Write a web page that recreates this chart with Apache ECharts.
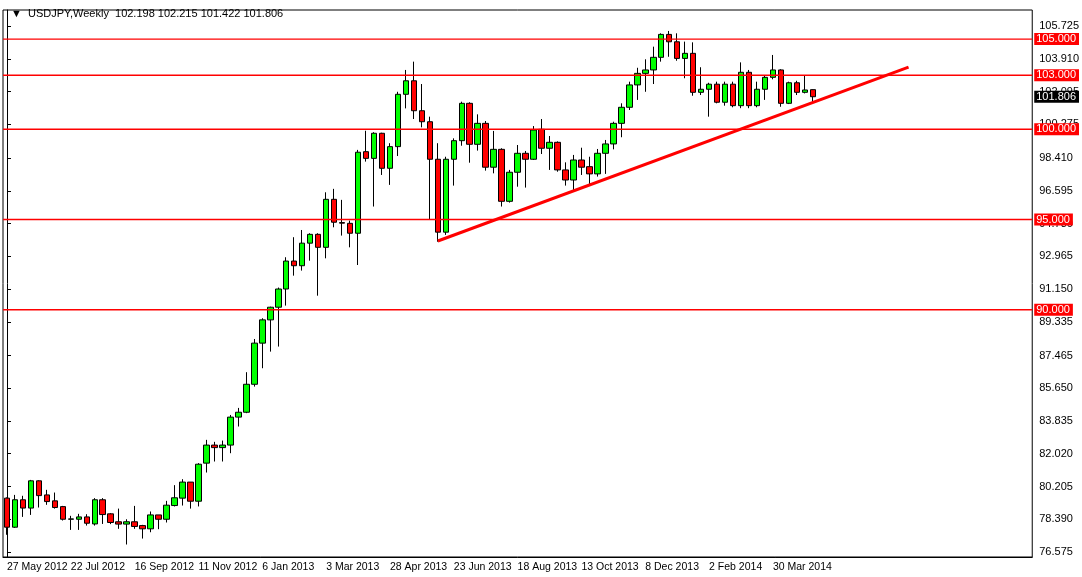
<!DOCTYPE html>
<html>
<head>
<meta charset="utf-8">
<script src="https://cdn.jsdelivr.net/npm/echarts@6/dist/echarts.min.js"></script>
<style>
  html, body { margin: 0; padding: 0; background: #fff; }
  #chart { width: 1082px; height: 577px; }
</style>
</head>
<body>
<div id="chart"></div>
<script>
// ========== 数据 ==========
// 每根K线: [开, 收, 低, 高]
const candles = [
  [79.56, 77.95, 77.53, 79.60], [77.95, 79.47, 77.91, 79.74], [79.47, 79.01, 78.52, 79.69],
  [79.01, 80.52, 78.63, 80.57], [80.52, 79.70, 79.04, 80.55], [79.74, 79.37, 79.19, 80.02],
  [79.41, 79.04, 78.98, 79.87], [79.09, 78.39, 78.32, 79.13], [78.39, 78.41, 77.80, 78.58],
  [78.39, 78.52, 77.80, 78.69], [78.52, 78.17, 78.04, 78.67], [78.13, 79.47, 78.04, 79.56],
  [79.47, 78.65, 78.13, 79.56], [78.69, 78.21, 78.12, 78.73], [78.25, 78.12, 77.86, 78.98],
  [78.12, 78.25, 76.99, 78.39], [78.25, 77.99, 77.86, 79.13], [78.04, 77.86, 77.32, 78.08],
  [77.86, 78.63, 77.67, 78.82], [78.63, 78.39, 77.84, 78.63], [78.39, 79.17, 78.21, 79.41],
  [79.15, 79.58, 79.10, 80.28], [79.56, 80.45, 79.15, 80.61], [80.45, 79.39, 78.98, 80.45],
  [79.39, 81.44, 79.10, 81.50], [81.50, 82.50, 80.98, 82.79], [82.50, 82.36, 81.59, 82.68],
  [82.36, 82.50, 81.59, 82.75], [82.50, 84.05, 82.05, 84.17], [84.05, 84.32, 83.53, 84.56],
  [84.32, 85.87, 84.27, 86.54], [85.87, 88.15, 85.74, 88.38], [88.15, 89.44, 86.76, 89.53],
  [89.44, 90.14, 87.68, 90.17], [90.14, 91.15, 87.96, 91.23], [91.15, 92.70, 90.23, 92.91],
  [92.70, 92.44, 91.89, 94.02], [92.44, 93.69, 92.17, 94.42], [93.69, 94.18, 92.72, 94.24],
  [94.18, 93.46, 90.78, 94.24], [93.46, 96.12, 92.85, 96.51], [96.12, 94.85, 94.57, 96.70],
  [94.83, 94.80, 94.11, 96.09], [94.79, 94.24, 93.46, 94.94], [94.24, 98.73, 92.48, 98.86],
  [98.76, 98.39, 98.21, 99.92], [98.39, 99.78, 95.72, 99.84], [99.78, 97.84, 97.47, 99.81],
  [97.84, 99.04, 96.92, 99.23], [99.04, 101.94, 98.52, 102.08], [101.94, 102.69, 101.16, 103.29],
  [102.69, 101.03, 100.57, 103.75], [101.03, 100.42, 100.11, 102.51], [100.42, 98.34, 94.98, 100.70],
  [98.34, 94.30, 93.77, 99.23], [94.30, 98.34, 94.15, 98.48], [98.34, 99.37, 96.88, 99.50],
  [99.37, 101.44, 99.09, 101.53], [101.44, 99.17, 98.15, 101.50], [99.17, 100.33, 98.82, 100.83],
  [100.33, 97.90, 97.71, 100.46], [97.90, 98.89, 97.56, 99.91], [98.89, 96.01, 95.72, 98.95],
  [96.01, 97.62, 95.94, 97.75], [97.62, 98.67, 96.82, 99.13], [98.67, 98.34, 96.77, 98.80],
  [98.34, 99.96, 98.30, 100.18], [100.00, 98.95, 98.63, 100.57], [98.95, 99.28, 97.75, 99.63],
  [99.28, 97.75, 97.65, 99.33], [97.75, 97.19, 96.88, 98.17], [97.19, 98.30, 96.54, 98.58],
  [98.30, 97.90, 97.47, 98.98], [97.93, 97.53, 96.88, 98.48], [97.53, 98.67, 97.38, 98.91],
  [98.67, 99.19, 97.53, 99.41], [99.19, 100.33, 98.89, 100.42], [100.33, 101.22, 99.56, 101.44],
  [101.22, 102.46, 101.07, 102.64], [102.46, 103.10, 101.63, 103.41], [103.10, 103.29, 102.08, 103.88],
  [103.29, 103.99, 102.51, 104.58], [103.99, 105.26, 103.75, 105.32], [105.26, 104.85, 104.02, 105.45],
  [104.85, 103.93, 103.80, 105.32], [103.93, 104.21, 102.83, 104.86], [104.21, 102.05, 101.86, 104.82],
  [102.05, 102.22, 101.90, 103.44], [102.22, 102.50, 100.70, 102.58], [102.50, 101.50, 101.44, 102.64],
  [101.50, 102.50, 101.31, 102.64], [102.50, 101.31, 101.22, 102.64], [101.31, 103.16, 101.17, 103.71],
  [103.16, 101.31, 101.17, 103.29], [101.31, 102.22, 101.22, 102.64], [102.22, 102.88, 101.63, 103.01],
  [102.88, 103.29, 102.77, 104.12], [103.29, 101.44, 101.25, 103.33], [101.44, 102.58, 101.40, 102.64],
  [102.58, 102.05, 101.90, 102.69], [102.05, 102.18, 101.99, 103.01], [102.198, 101.806, 101.422, 102.215]
];
const levelLines = [105, 103, 100, 95, 90];
const lastPrice = 101.806;
const yTicks = [105.725, 103.910, 102.095, 100.275, 98.410, 96.595, 94.780, 92.965, 91.150,
  89.335, 87.465, 85.650, 83.835, 82.020, 80.205, 78.390, 76.575];
const trendLine = [[54, 93.81], [113, 103.45]];

// ========== 类目(周) ==========
const TOTAL_SLOTS = 129;
const MONTHS = ['Jan', 'Feb', 'Mar', 'Apr', 'May', 'Jun', 'Jul', 'Aug', 'Sep', 'Oct', 'Nov', 'Dec'];
const weeks = [];
for (let i = 0; i < TOTAL_SLOTS; i++) {
    const d = new Date(Date.UTC(2012, 4, 27 + i * 7));
    weeks.push(d.getUTCDate() + ' ' + MONTHS[d.getUTCMonth()] + ' ' + d.getUTCFullYear());
}

const FONT = 'Liberation Sans';
const labelStyle = {
    show: true,
    position: 'end', distance: 2,
    formatter: '{b}',
    color: '#fff', backgroundColor: '#ff0000',
    padding: [1, 3, 0, 2],
    fontFamily: FONT, fontSize: 11
};

// 水平价位线: 每条一个 line 系列, 横跨整个图区
const levelSeries = levelLines.map(v => ({
    type: 'line',
    xAxisIndex: 1,
    data: [[-0.5, v], [TOTAL_SLOTS - 0.5, v]],
    symbol: 'none',
    silent: true,
    color: '#ff0000',
    lineStyle: { color: '#ff0000', width: 1.4 },
    z: 4
}));

const myChart = echarts.init(document.getElementById('chart'));

const option = {
    animation: false,
    backgroundColor: '#fff',
    title: {
        text: '▼  USDJPY,Weekly  102.198 102.215 101.422 101.806',
        left: 6, top: 3,
        textStyle: { fontFamily: FONT, fontSize: 11, fontWeight: 'normal', color: '#000' }
    },
    grid: { left: 3, right: 48, top: 10, bottom: 20, show: true, borderColor: '#000', borderWidth: 1 },
    xAxis: [{
        type: 'category',
        data: weeks,
        boundaryGap: true,
        axisLine: { lineStyle: { color: '#000' } },
        axisTick: { interval: 7, alignWithLabel: true, length: 4, lineStyle: { color: '#000' } },
        axisLabel: {
            interval: (idx) => idx % 8 === 0 && idx <= 101,
            align: 'left', margin: 5,
            fontFamily: FONT, fontSize: 10.5, color: '#000'
        },
        splitLine: { show: false }
    }, {
        type: 'value', show: false, min: -0.5, max: TOTAL_SLOTS - 0.5
    }],
    yAxis: {
        type: 'value',
        position: 'right',
        min: 76.298, max: 106.612,
        axisLine: { show: true, lineStyle: { color: '#000' } },
        axisTick: { show: true, customValues: yTicks, length: 4, lineStyle: { color: '#000' } },
        axisLabel: {
            customValues: yTicks, margin: 7,
            formatter: (v) => v.toFixed(3),
            fontFamily: FONT, fontSize: 11, color: '#000'
        },
        splitLine: { show: false }
    },
    series: [{
        type: 'candlestick',
        data: candles,
        barWidth: 6,
        z: 3,
        itemStyle: {
            color: '#00ff00', color0: '#ff0000',
            borderColor: '#000', borderColor0: '#000', borderWidth: 1
        },
        // 右侧价位标签 (线本身透明)
        markLine: {
            symbol: 'none', silent: true,
            label: labelStyle,
            lineStyle: { color: 'rgba(255,0,0,0)', width: 1 },
            data: levelLines.map(v => ({ yAxis: v, name: v.toFixed(3) })).concat([{
                yAxis: lastPrice,
                name: lastPrice.toFixed(3),
                label: { backgroundColor: '#000', color: '#fff' }
            }])
        }
    }, {
        // 趋势线
        type: 'line',
        xAxisIndex: 1,
        data: trendLine,
        symbol: 'none',
        color: '#ff0000',
        lineStyle: { color: '#ff0000', width: 3 },
        z: 4
    }].concat(levelSeries)
};

myChart.setOption(option);
</script>
</body>
</html>
